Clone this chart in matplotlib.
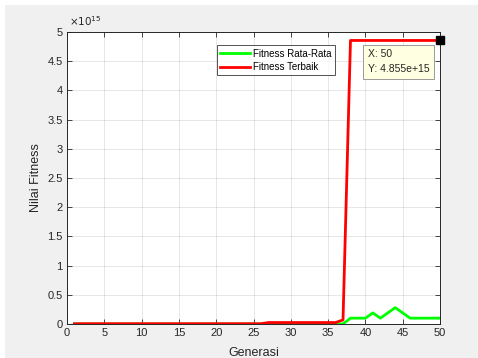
import matplotlib.pyplot as plt
from matplotlib.patches import Rectangle
from matplotlib.ticker import FuncFormatter

plt.rcParams['font.family'] = ['Liberation Sans', 'DejaVu Sans']

# generasi 1..50
generasi = list(range(1, 51))
fitness_terbaik = [0.005e15] * 26 + [0.025e15] * 10 + [0.07e15] + [4.855e15] * 13
fitness_rata = [0.0] * 37 + [0.1e15, 0.1e15, 0.1e15, 0.19e15, 0.1e15, 0.19e15, 0.28e15,
                             0.19e15, 0.1e15, 0.1e15, 0.1e15, 0.1e15, 0.1e15]

tick_col = '#262626'

fig = plt.figure(figsize=(4.78, 3.58), dpi=100, facecolor='white')
fig.patches.append(Rectangle((5 / 478, 0), 1, 1 - 5 / 358, transform=fig.transFigure,
                             facecolor='#f0f0f0', edgecolor='none', zorder=-10))
ax = fig.add_axes([67 / 478, 34 / 358, 373 / 478, 292 / 358])

ax.plot(generasi, fitness_rata, color='#00ff00', lw=2, label='Fitness Rata-Rata')
ax.plot(generasi, fitness_terbaik, color='#ff0000', lw=2, label='Fitness Terbaik')

ax.set_xlim(0, 50)
ax.set_ylim(0, 5e15)
ax.set_xticks(range(0, 51, 5))
ax.set_yticks([i * 0.5e15 for i in range(11)])
ax.yaxis.set_major_formatter(FuncFormatter(lambda v, _: f'{v / 1e15:g}'))
ax.text(0.005, 1.012, r'$\times10^{15}$', transform=ax.transAxes, fontsize=7.5,
        color=tick_col, va='bottom', ha='left')

ax.tick_params(direction='in', length=3.5, width=0.6, top=True, right=True,
               labelsize=8, colors=tick_col, pad=3)
for s in ax.spines.values():
    s.set_color(tick_col)
    s.set_linewidth(0.7)
ax.grid(True, color='#262626', alpha=0.13, lw=0.6)
ax.set_axisbelow(True)

ax.set_xlabel('Generasi', fontsize=9, color=tick_col, labelpad=6.5)
ax.set_ylabel('Nilai Fitness', fontsize=9, color=tick_col, labelpad=4)

leg = ax.legend(loc='upper left', bbox_to_anchor=(0.402, 0.955), borderaxespad=0,
                fontsize=7, frameon=True, fancybox=False, edgecolor=tick_col,
                handlelength=3, borderpad=0.35, labelspacing=0.35, handletextpad=0.4)
leg.get_frame().set_linewidth(0.7)

# data tip on the last generation
ax.plot([50], [4.855e15], marker='s', color='black', ms=6, clip_on=False, zorder=5)
ax.text(48.6, 4.49e15, 'X: 50\nY: 4.855e+15', fontsize=7.5, color=tick_col,
        ha='right', va='center', multialignment='left', linespacing=1.6,
        bbox=dict(boxstyle='square,pad=0.45', facecolor='#ffffe1', edgecolor='#999999', lw=0.7))

fig.savefig('out.png', dpi=100, facecolor=fig.get_facecolor())
